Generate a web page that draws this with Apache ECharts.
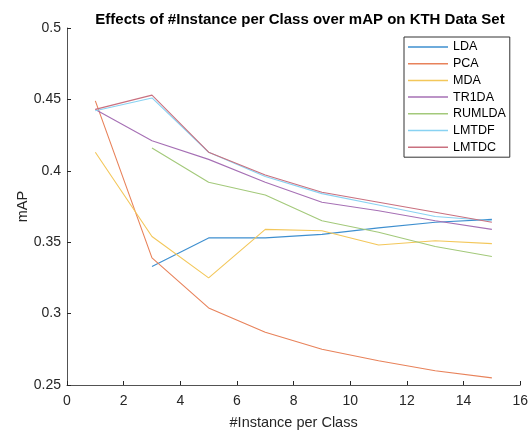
<!DOCTYPE html>
<html><head><meta charset="utf-8">
<script src="https://cdn.jsdelivr.net/npm/echarts@6/dist/echarts.min.js"></script>
<style>html,body{margin:0;padding:0;background:#fff}#c{width:531px;height:436px}</style>
</head><body><div id="c"></div>
<script>
const xs = [1, 3, 5, 7, 9, 11, 13, 15];
const seriesNames = ['LDA', 'PCA', 'MDA', 'TR1DA', 'RUMLDA', 'LMTDF', 'LMTDC'];
const LDA    = [null, 0.333, 0.353, 0.353, 0.3555, 0.360, 0.364, 0.366];
const PCA    = [0.449, 0.339, 0.304, 0.287, 0.275, 0.267, 0.260, 0.255];
const MDA    = [0.413, 0.354, 0.325, 0.359, 0.358, 0.348, 0.351, 0.349];
const TR1DA  = [0.443, 0.421, 0.408, 0.392, 0.378, 0.372, 0.365, 0.359];
const RUMLDA = [null, 0.416, 0.392, 0.383, 0.365, 0.357, 0.347, 0.340];
const LMTDF  = [0.442, 0.451, 0.413, 0.396, 0.384, 0.376, 0.368, 0.365];
const LMTDC  = [0.443, 0.453, 0.413, 0.397, 0.385, 0.378, 0.371, 0.364];
const allData = [LDA, PCA, MDA, TR1DA, RUMLDA, LMTDF, LMTDC];
const colors = ['#3e8fcf', '#e8825a', '#f3c75a', '#a670b5', '#a3c97a', '#88d2f2', '#c9707f'];

const font = 'Liberation Sans, Arial, sans-serif';
const chart = echarts.init(document.getElementById('c'), null, {renderer: 'canvas'});
chart.setOption({
  animation: false,
  title: {
    text: 'Effects of #Instance per Class over mAP on KTH Data Set',
    left: 295, top: 7, textAlign: 'center',
    textStyle: {fontFamily: font, fontSize: 15, fontWeight: 'bold', color: '#000'}
  },
  grid: {left: 67, right: 9, top: 28, bottom: 51},
  xAxis: {
    type: 'value', min: 0, max: 16, interval: 2,
    name: '#Instance per Class', nameLocation: 'middle', nameGap: 30,
    nameTextStyle: {fontFamily: font, fontSize: 14.5, color: '#262626'},
    axisLine: {lineStyle: {color: '#262626', width: 0.8}},
    axisTick: {inside: true, length: 4, lineStyle: {color: '#262626'}},
    axisLabel: {fontFamily: font, fontSize: 14, color: '#262626', margin: 9},
    splitLine: {show: false}
  },
  yAxis: {
    type: 'value', min: 0.25, max: 0.5, interval: 0.05,
    name: 'mAP', nameLocation: 'middle', nameGap: 37, nameMoveOverlap: false,
    nameTextStyle: {fontFamily: font, fontSize: 14.5, color: '#262626'},
    axisLine: {show: true, lineStyle: {color: '#262626', width: 0.8}},
    axisTick: {show: true, inside: true, length: 4, lineStyle: {color: '#262626'}},
    axisLabel: {fontFamily: font, fontSize: 14, color: '#262626', margin: 6},
    splitLine: {show: false}
  },
  legend: {
    orient: 'vertical', left: 404, top: 37,
    data: seriesNames,
    icon: 'rect', itemWidth: 40, itemHeight: 1.5, itemGap: 2.7,
    padding: [3, 4, 3, 4],
    borderColor: '#333', borderWidth: 1, backgroundColor: '#fff', borderRadius: 0,
    textStyle: {fontFamily: font, fontSize: 12.5, color: '#000', lineHeight: 14},
    selectedMode: false
  },
  series: seriesNames.map((n, i) => ({
    name: n, type: 'line', symbol: 'none', connectNulls: false,
    color: colors[i],
    lineStyle: {width: 1.1, color: colors[i]},
    data: xs.map((x, j) => [x, allData[i][j]]).filter(p => p[1] !== null)
  }))
});
</script></body></html>
